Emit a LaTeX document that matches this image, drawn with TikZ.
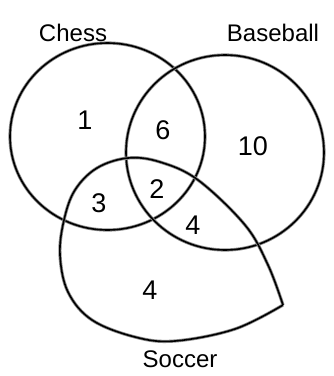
\documentclass[tikz,border=0pt]{standalone}
\usepackage{fontspec}
\setmainfont{Liberation Sans}
\usepackage{tikz}
\usetikzlibrary{positioning,shapes.geometric}
\tikzstyle{ink} = [draw=black, line width=1.6pt, preaction={draw=black!45, line width=3.2pt}]
\tikzstyle{setring} = [ellipse, ink, inner sep=0pt]
\tikzstyle{count} = [font=\fontsize{27}{30}\selectfont]
\tikzstyle{setname} = [font=\fontsize{24}{28}\selectfont]

\begin{document}
\begin{tikzpicture}[x=1pt, y=-1pt]
\useasboundingbox (0,0) rectangle (334,376);
\node[setring, minimum width=195pt, minimum height=187pt] (chess) at (107.5,136.5) {};
\node[setring, minimum width=198pt, minimum height=195pt] (baseball) at (225,152.5) {};
\draw[ink, line join=round] plot[smooth, tension=0.6] coordinates {(283,305) (268,265) (245,225) (198,180) (160,162) (128,158) (97,168) (75,190) (64,220) (60,255) (68,292) (92,320) (135,337) (175,341) (235,329) (283,305)};

\node[setname] (chesslabel) at (73,33) {Chess};
\node[setname] (baseballlabel) at (273,33) {Baseball};
\node[setname] (soccerlabel) at (180,359) {Soccer};

\node[count] (chessonly) at (85,120) {1};
\node[count] (chessbase) at (163,130) {6};
\node[count] (baseonly) at (253,146) {10};
\node[count] (chesssoc) at (99,203) {3};
\node[count] (allthree) at (157,189) {2};
\node[count] (basesoc) at (193,225) {4};
\node[count] (soconly) at (150,290) {4};
\end{tikzpicture}
\end{document}
